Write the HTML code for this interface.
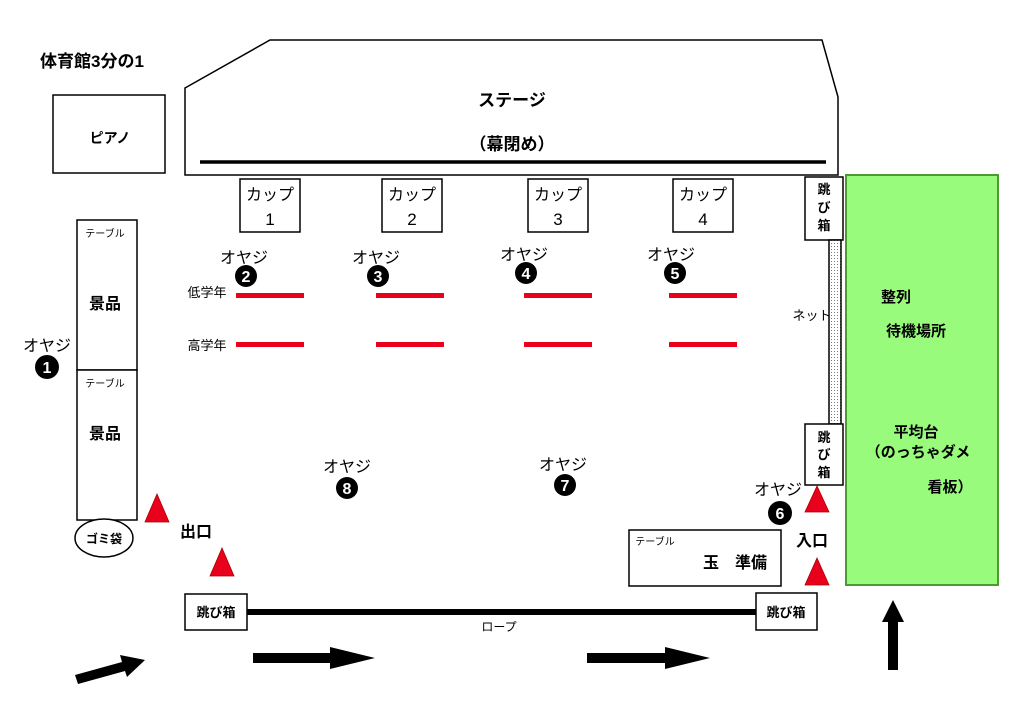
<!DOCTYPE html>
<html><head><meta charset="utf-8"><style>
html,body{margin:0;padding:0;background:#fff;}
svg{display:block;}
text{font-family:"Liberation Sans","Noto Sans CJK JP",sans-serif;fill:#000;}
</style></head><body>
<svg width="1024" height="724" viewBox="0 0 1024 724" xmlns="http://www.w3.org/2000/svg">
<defs>
<pattern id="dots" width="3" height="3" patternUnits="userSpaceOnUse"><rect width="3" height="3" fill="#fff"/><rect width="1" height="1" fill="#777"/></pattern>
</defs>
<g stroke="#000" stroke-width="1.5" fill="#fff">
<text x="40" y="67" font-size="17" font-weight="bold" stroke="none">体育館3分の1</text>
<rect x="53" y="95" width="112" height="78"/>
<polygon points="185,88 270,40 822,40 838,97 838,175 185,175"/>
<line x1="200" y1="162" x2="826" y2="162" stroke-width="3.5"/>
<rect x="240" y="179" width="60" height="53"/>
<rect x="382" y="179" width="60" height="53"/>
<rect x="528" y="179" width="60" height="53"/>
<rect x="673" y="179" width="60" height="53"/>
<rect x="77" y="220" width="60" height="150"/>
<rect x="77" y="370" width="60" height="150"/>
<ellipse cx="104" cy="538" rx="29" ry="19"/>
<rect x="805" y="177" width="38" height="63"/>
<rect x="829" y="240" width="12" height="184" fill="url(#dots)"/>
<rect x="805" y="424" width="38" height="61"/>
<rect x="846" y="175" width="152" height="410" fill="#99fb7c" stroke="#4b9a32" stroke-width="2"/>
<rect x="629" y="530" width="152" height="56"/>
<rect x="185" y="594" width="62" height="36"/>
<rect x="756" y="593" width="61" height="37"/>
<line x1="247" y1="612" x2="756" y2="612" stroke-width="6"/>
</g>
<g fill="#e8001c">
<rect x="236" y="293" width="68" height="5"/><rect x="376" y="293" width="68" height="5"/><rect x="524" y="293" width="68" height="5"/><rect x="669" y="293" width="68" height="5"/>
<rect x="236" y="342" width="68" height="5"/><rect x="376" y="342" width="68" height="5"/><rect x="524" y="342" width="68" height="5"/><rect x="669" y="342" width="68" height="5"/>
<polygon points="157,494 145,522 169,522" stroke="#a00" stroke-width="0.8"/>
<polygon points="222,548 210,576 234,576" stroke="#a00" stroke-width="0.8"/>
<polygon points="817,486 805,512 829,512" stroke="#a00" stroke-width="0.8"/>
<polygon points="817,558 805,585 829,585" stroke="#a00" stroke-width="0.8"/>
</g>
<g fill="#000">
<polygon points="75,675 122,662 120,655 145,660 127,677 125,671 78,684"/>
<polygon points="253,653 330,653 330,647 375,658 330,669 330,663 253,663"/>
<polygon points="587,653 665,653 665,647 710,658 665,669 665,663 587,663"/>
<polygon points="888,670 888,622 882,622 893,600 904,622 898,622 898,670"/>
<circle cx="47" cy="367" r="12"/><circle cx="246" cy="276" r="11"/><circle cx="378" cy="276" r="11"/><circle cx="526" cy="273" r="11"/><circle cx="675" cy="273" r="11"/><circle cx="347" cy="488" r="11"/><circle cx="565" cy="485" r="11"/><circle cx="780" cy="513" r="12"/>
</g>
<g font-size="16" text-anchor="middle">
<text x="110" y="143" font-weight="bold" font-size="14">ピアノ</text>
<text x="512" y="106" font-weight="bold" font-size="17">ステージ</text>
<text x="512" y="150" font-weight="bold" font-size="17">（幕閉め）</text>
<text x="270" y="200">カップ</text><text x="270" y="225" font-size="17">1</text>
<text x="412" y="200">カップ</text><text x="412" y="225" font-size="17">2</text>
<text x="558" y="200">カップ</text><text x="558" y="225" font-size="17">3</text>
<text x="703" y="200">カップ</text><text x="703" y="225" font-size="17">4</text>
<text x="105" y="237" font-size="10">テーブル</text><text x="105" y="309" font-size="16" font-weight="bold">景品</text>
<text x="105" y="387" font-size="10">テーブル</text><text x="105" y="439" font-size="16" font-weight="bold">景品</text>
<text x="104" y="543" font-size="12" font-weight="bold">ゴミ袋</text>
<text x="47" y="351">オヤジ</text><text x="244" y="263">オヤジ</text><text x="376" y="263">オヤジ</text><text x="524" y="260">オヤジ</text><text x="671" y="260">オヤジ</text><text x="347" y="472">オヤジ</text><text x="563" y="470">オヤジ</text><text x="778" y="495">オヤジ</text>
<text x="207" y="297" font-size="13">低学年</text><text x="207" y="350" font-size="13">高学年</text>
<text x="812" y="320" font-size="13">ネット</text>
<g font-size="13" font-weight="bold"><text x="824" y="194">跳</text><text x="824" y="212">び</text><text x="824" y="230">箱</text>
<text x="824" y="442">跳</text><text x="824" y="459">び</text><text x="824" y="477">箱</text></g>
<text x="216" y="617" font-size="13" font-weight="bold">跳び箱</text>
<text x="786" y="617" font-size="13" font-weight="bold">跳び箱</text>
<text x="499" y="631" font-size="12">ロープ</text>
<text x="196" y="537" font-weight="bold">出口</text>
<text x="812" y="546" font-weight="bold">入口</text>
<text x="655" y="545" font-size="10">テーブル</text>
<text x="735" y="568" font-weight="bold" font-size="16">玉　準備</text>
<g font-weight="bold" font-size="15"><text x="896" y="302">整列</text><text x="916" y="336">待機場所</text><text x="916" y="437">平均台</text><text x="918" y="457">（のっちゃダメ</text><text x="950" y="492">看板）</text></g>
</g>
<g font-size="16" font-weight="bold" text-anchor="middle">
<text x="47" y="373" style="fill:#fff">1</text><text x="246" y="282" style="fill:#fff">2</text><text x="378" y="282" style="fill:#fff">3</text><text x="526" y="279" style="fill:#fff">4</text><text x="675" y="279" style="fill:#fff">5</text><text x="347" y="494" style="fill:#fff">8</text><text x="565" y="491" style="fill:#fff">7</text><text x="780" y="519" style="fill:#fff">6</text>
</g>
</svg>
</body></html>
